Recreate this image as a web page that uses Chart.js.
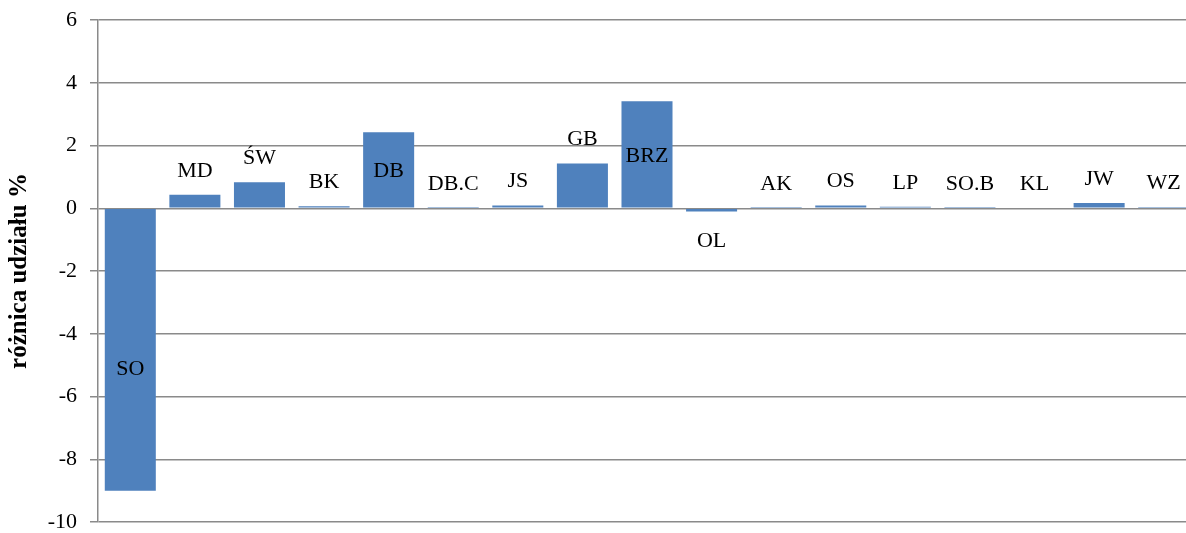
<!DOCTYPE html>
<html>
<head>
<meta charset="utf-8">
<script src="https://cdn.jsdelivr.net/npm/chart.js@4/dist/chart.umd.min.js"></script>
<style>
  html, body { margin: 0; padding: 0; background: #fff; overflow: hidden; }
  #wrap { width: 1200px; height: 533px; }
</style>
</head>
<body>
<div id="wrap"><canvas id="chart" width="1200" height="533"></canvas></div>
<script>
// --- DANE ---
const categories = ['SO', 'MD', 'ŚW', 'BK', 'DB', 'DB.C', 'JS', 'GB', 'BRZ', 'OL', 'AK', 'OS', 'LP', 'SO.B', 'KL', 'JW', 'WZ'];
const diffValues = [-9.0, 0.43, 0.83, 0.06, 2.42, 0.01, 0.09, 1.43, 3.41, -0.1, 0.01, 0.09, 0.05, 0.01, 0.02, 0.17, 0.04];
const yTicks = { min: -10, max: 6, step: 2 };
const axisTitle = 'różnica udziału %';
// --- KONIEC DANYCH ---

const FONT = '"Liberation Serif", "DejaVu Serif", serif';

// etykiety przesunięte ręcznie (jak w oryginale)
const labelNudge = { SO: -152, DB: 63, BRZ: 79 };

// rysowanie etykiet kategorii przy słupkach
const barLabels = {
  id: 'barLabels',
  afterDatasetsDraw(chart) {
    const ctx = chart.ctx;
    const meta = chart.getDatasetMeta(0);
    ctx.save();
    ctx.font = '22px ' + FONT;
    ctx.fillStyle = '#000';
    ctx.textAlign = 'center';
    ctx.textBaseline = 'alphabetic';
    meta.data.forEach((bar, i) => {
      const name = categories[i];
      const v = diffValues[i];
      let y = v >= 0 ? bar.y - 18 : bar.y + 36;
      if (labelNudge[name]) y += labelNudge[name];
      ctx.fillText(name, bar.x, y);
    });
    ctx.restore();
  }
};

const ctx = document.getElementById('chart').getContext('2d');
const chart = new Chart(ctx, {
  type: 'bar',
  data: {
    labels: categories,
    datasets: [{
      data: diffValues,
      backgroundColor: '#4f81bd',
      borderWidth: 0,
      categoryPercentage: 0.79,
      barPercentage: 1
    }]
  },
  options: {
    responsive: false,
    animation: false,
    layout: { padding: { top: 20, bottom: 11, left: 0, right: 4 } },
    plugins: { legend: { display: false }, tooltip: { enabled: false } },
    scales: {
      x: { display: false },
      y: {
        min: yTicks.min,
        max: yTicks.max,
        ticks: {
          stepSize: yTicks.step,
          color: '#000',
          font: { family: FONT, size: 22 },
          padding: 13
        },
        grid: { color: '#8a8a8a', lineWidth: 1.5, tickLength: 8, tickColor: '#8a8a8a' },
        border: { color: '#8a8a8a', width: 1.5 },
        title: {
          display: true,
          text: axisTitle,
          color: '#000',
          font: { family: FONT, size: 25, weight: 'bold' },
          padding: { top: 5, bottom: 0 }
        },
        afterFit(scale) {
          scale.width = 98;
          scale.paddingTop = 0;
          scale.paddingBottom = 0;
        }
      }
    }
  },
  plugins: [barLabels]
});
</script>
</body>
</html>
